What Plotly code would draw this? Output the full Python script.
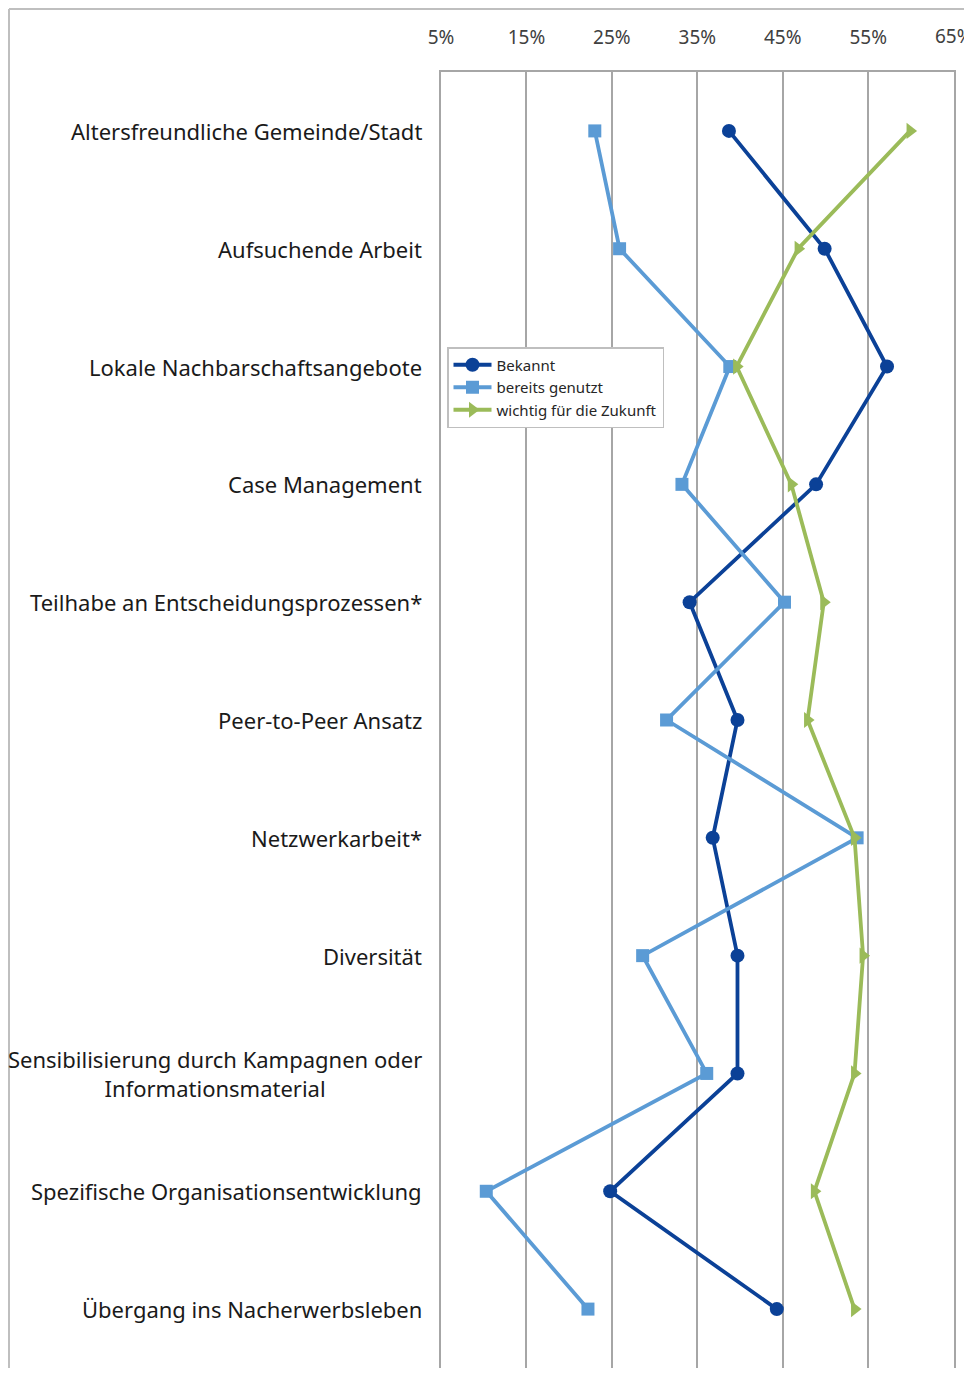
import plotly.graph_objects as go

categories = [
    "Altersfreundliche Gemeinde/Stadt",
    "Aufsuchende Arbeit",
    "Lokale Nachbarschaftsangebote",
    "Case Management",
    "Teilhabe an Entscheidungsprozessen*",
    "Peer-to-Peer Ansatz",
    "Netzwerkarbeit*",
    "Diversität",
    "Sensibilisierung durch Kampagnen oder<br>Informationsmaterial",
    "Spezifische Organisationsentwicklung",
    "Übergang ins Nacherwerbsleben",
]

bekannt = [38.7, 49.9, 57.2, 48.9, 34.1, 39.7, 36.8, 39.7, 39.7, 24.8, 44.3]
bereits_genutzt = [23.0, 25.9, 38.8, 33.2, 45.2, 31.4, 53.7, 28.6, 36.1, 10.3, 22.2]
wichtig_zukunft = [59.9, 46.8, 39.6, 46.0, 49.8, 47.9, 53.4, 54.4, 53.4, 48.7, 53.4]

tick_vals = [5, 15, 25, 35, 45, 55, 65]
tick_text = ["5%", "15%", "25%", "35%", "45%", "55%", "65%"]

series = [
    ("Bekannt", bekannt, "#0B4197", "circle", 14),
    ("bereits genutzt", bereits_genutzt, "#5B9BD5", "square", 13),
    ("wichtig für die Zukunft", wichtig_zukunft, "#9BBB59", "triangle-right", 14),
]

# the page body has an 8px default margin; size the figure so it fits the window
W, H = 964, 1360
ML, MR, MT, MB = 433, 18, 64, 0
PW = W - ML - MR
PH = H - MT - MB

fig = go.Figure()
for name, vals, color, sym, size in series:
    fig.add_trace(go.Scatter(
        x=vals, y=categories, name=name, mode="lines+markers",
        line=dict(color=color, width=3.8),
        marker=dict(symbol=sym, size=size, color=color),
    ))

grid = "#A6A6A6"
tick_font = dict(size=19, color="#404040", family="Noto Sans")
fig.update_layout(
    width=W, height=H,
    margin=dict(l=ML, r=MR, t=MT, b=MB, pad=0),
    paper_bgcolor="white", plot_bgcolor="white",
    font=dict(family="Noto Sans", color="#262626"),
    showlegend=True,
    legend=dict(
        x=6 / PW, y=1 - 275 / PH, xanchor="left", yanchor="top",
        bgcolor="white", bordercolor="#BFBFBF", borderwidth=1.5,
        font=dict(size=15, color="#262626", family="Noto Sans"),
        tracegroupgap=0, itemwidth=38,
    ),
    xaxis=dict(
        side="top", range=[5, 65.04], tickvals=tick_vals, ticktext=tick_text,
        showgrid=True, gridcolor=grid, gridwidth=1.5,
        showline=True, linecolor=grid, linewidth=1.5,
        ticks="", ticklabelstandoff=19,
        tickfont=tick_font,
        zeroline=False, fixedrange=True,
    ),
    yaxis=dict(
        categoryorder="array", categoryarray=categories,
        range=[len(categories) - 0.5, -0.5],
        showticklabels=False, showgrid=False, zeroline=False,
        showline=True, mirror=True, linecolor=grid, linewidth=1.5, ticks="",
    ),
)

# last tick label sits at the very edge of the page, where plotly hides it
fig.add_annotation(
    x=tick_vals[-1], xref="x", xanchor="center",
    y=1 + (MT - 28) / PH, yref="paper", yanchor="middle",
    text=tick_text[-1], showarrow=False, font=tick_font,
)

for c in categories:
    fig.add_annotation(
        x=-17 / PW, xref="paper", xanchor="right",
        y=c, yref="y", yanchor="middle",
        text=c, showarrow=False, align="center",
        font=dict(size=22, color="#1a1a1a", family="Noto Sans"),
    )

# outer chart frame (top and left edges visible in the crop)
fx = (1 - ML) / PW
fy = 1 + (MT - 1) / PH
fig.add_shape(type="line", xref="paper", yref="paper",
              x0=fx, x1=(W - ML) / PW, y0=fy, y1=fy,
              line=dict(color="#BFBFBF", width=2))
fig.add_shape(type="line", xref="paper", yref="paper",
              x0=fx, x1=fx, y0=fy, y1=-MB / PH,
              line=dict(color="#BFBFBF", width=2))

fig.write_html("out.html")
